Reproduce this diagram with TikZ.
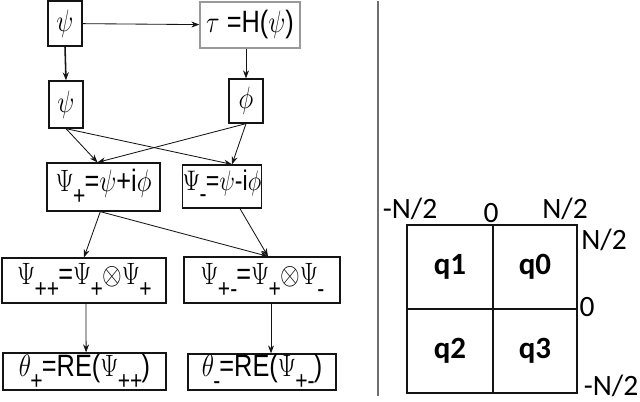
\RequirePackage{fix-cm}
\documentclass[tikz,border=0pt]{standalone}
\usepackage{fontspec}
\usepackage{graphicx}
\setmainfont{Liberation Sans}
\newfontfamily\calfont{Carlito}
\usetikzlibrary{arrows.meta,positioning}
\definecolor{ink}{RGB}{20,20,20}
\definecolor{rule}{RGB}{110,110,110}
\newcommand{\lo}[1]{\kern-0.5pt\raisebox{-0.8ex}{\fontsize{15}{16}\selectfont #1}\kern-0.6pt}
\newcommand{\tall}[1]{\scalebox{1}[1.22]{#1}}
\tikzset{
  >={Stealth[length=2mm,width=1.5mm]},
  fbox/.style={draw=ink,line width=0.9pt,inner sep=0pt,align=center,
    font=\fontsize{18}{20}\selectfont},
  gbox/.style={fbox,draw=rule!70},
  link/.style={->,draw=ink,line width=0.6pt},
  quad/.style={font=\calfont\bfseries\fontsize{22}{24}\selectfont},
  edge lbl/.style={font=\calfont\fontsize{21}{23}\selectfont,inner sep=0pt},
}
\begin{document}
\begin{tikzpicture}[x=0.25mm,y=-0.25mm]
  \useasboundingbox (0,0) rectangle (640,401);
  % flow on the left
  \node[fbox,minimum width=8.5mm,minimum height=11.25mm] (psiA) at (65,23.5) {\tall{$\psi$}};
  \node[gbox,minimum width=25mm,minimum height=11.5mm] (tau) at (250,25) {\tall{$\tau$ =H($\psi$)}};
  \node[fbox,minimum width=8.5mm,minimum height=11.75mm] (psiB) at (66,104.5) {\tall{$\psi$}};
  \node[fbox,minimum width=8.5mm,minimum height=11mm] (phi) at (246,101) {\tall{$\phi$}};
  \node[fbox,minimum width=28.25mm,minimum height=12mm] (psiP) at (103.5,187) {\tall{$\Psi$\lo{+}=$\psi$+i$\phi$}};
  \node[fbox,minimum width=19mm,minimum height=10.75mm,font=\fontsize{16.5}{18}\selectfont] (psiM) at (222,186.5) {\tall{$\Psi$\lo{-}=$\psi$-i$\phi$}};
  \node[fbox,minimum width=41mm,minimum height=11.25mm] (psiPP) at (84,280.5) {\tall{$\Psi$\lo{++}=$\Psi$\lo{+}$\otimes\Psi$\lo{+}}};
  \node[fbox,minimum width=39mm,minimum height=11.5mm] (psiPM) at (262,280) {\tall{$\Psi$\lo{+-}=$\Psi$\lo{+}$\otimes\Psi$\lo{-}}};
  \node[fbox,minimum width=40.75mm,minimum height=9.25mm] (thP) at (84.5,371.5) {\tall{$\theta$\lo{+}=RE($\Psi$\lo{++})}};
  \node[fbox,minimum width=37mm,minimum height=9mm] (thM) at (262,372) {\tall{$\theta$\lo{-}=RE($\Psi$\lo{+-})}};
  \draw[link] (psiA) -- (tau);
  \draw[link,line width=1.1pt] (psiA.south) -- (psiB.north);
  \draw[link] (tau.south -| phi) -- (phi);
  \draw[link] (psiB.south) -- ([xshift=-1.5mm]psiP.north);
  \draw[link] (psiB.south) -- ([xshift=2.5mm]psiM.north);
  \draw[link] (phi.south) -- ([xshift=-1.5mm]psiP.north);
  \draw[link] (phi.south) -- ([xshift=2.5mm]psiM.north);
  \draw[link] ([xshift=-0.8mm]psiP.south) -- (psiPP.north);
  \draw[link] ([xshift=-0.8mm]psiP.south) -- ([xshift=1.5mm]psiPM.north);
  \draw[link] ([xshift=4.5mm]psiM.south) -- ([xshift=1.5mm]psiPM.north);
  \draw[link] ([xshift=0.5mm]psiPP.south) -- ([xshift=0.4mm]thP.north);
  \draw[link] ([xshift=2.25mm]psiPM.south) -- ([xshift=2.25mm]thM.north);
  % separator
  \node[inner sep=0pt] (topmark) at (378,0) {};
  \node[inner sep=0pt] (botmark) at (378,397) {};
  \draw[rule,line width=0.8pt] (topmark) -- (botmark);
  % quadrant grid
  \draw[ink,line width=1.2pt] (407,225) rectangle (577,393);
  \draw[ink,line width=1.2pt] (493,225) -- (493,393) (407,309) -- (577,309);
  \node[quad] (q1) at (450,267) {q1};
  \node[quad] (q0) at (535,267) {q0};
  \node[quad] (q2) at (450,351) {q2};
  \node[quad] (q3) at (535,351) {q3};
  \node[edge lbl] (xl) at (410,209) {-N/2};
  \node[edge lbl] (xm) at (491,213) {0};
  \node[edge lbl] (xr) at (565,209) {N/2};
  \node[edge lbl] (yt) at (604,240) {N/2};
  \node[edge lbl] (ym) at (587,307) {0};
  \node[edge lbl] (yb) at (611,386) {-N/2};
\end{tikzpicture}
\end{document}
